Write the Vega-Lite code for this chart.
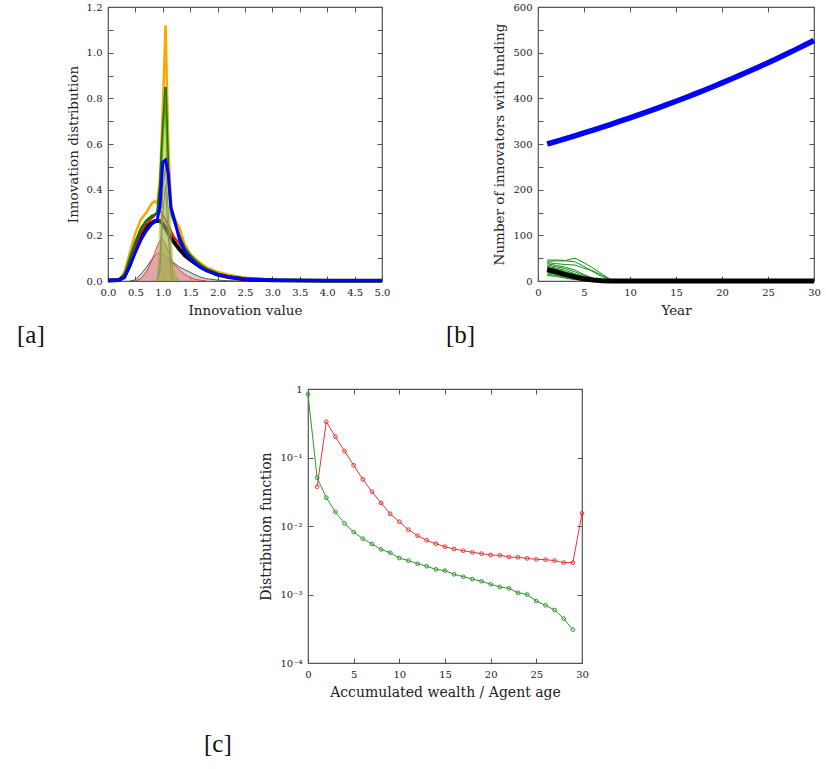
{
  "$schema": "https://vega.github.io/schema/vega-lite/v6.json",
  "padding": {"left": 16, "top": 1, "right": 5, "bottom": 5},
  "background": "white",
  "config": {
    "font": "DejaVu Serif",
    "view": {"stroke": "#555555", "strokeWidth": 1.2},
    "axis": {"grid": false, "domain": false, "tickSize": -5, "tickColor": "#555555", "tickWidth": 1, "labelFont": "DejaVu Serif", "labelFontSize": 10, "labelColor": "#222222", "labelPadding": 11, "labelFlush": false, "labelOverlap": false, "titleFont": "DejaVu Serif", "titleFontSize": 13.5, "titleFontWeight": "normal", "titleColor": "#222222", "titlePadding": 6},
    "title": {"font": "Liberation Serif", "fontSize": 25, "fontWeight": "normal", "color": "#111111"}
  },
  "datasets": {
    "a": [
      {"x":0,"O":0,"G":0,"B":0.003,"R":0,"K":0.002},
      {"x":0.2,"O":0.002,"G":0.001,"B":0.003,"R":0.001,"K":0.004},
      {"x":0.3,"O":0.04,"G":0.02,"B":0.015,"R":0.015,"K":0.02},
      {"x":0.4,"O":0.125,"G":0.1,"B":0.07,"R":0.08,"K":0.07,"GF":0},
      {"x":0.5,"O":0.21,"G":0.17,"B":0.125,"R":0.15,"K":0.14,"GF":0.005,"RF":0},
      {"x":0.6,"O":0.27,"G":0.23,"B":0.18,"R":0.21,"K":0.2,"GF":0.03,"RF":0.01},
      {"x":0.7,"O":0.3,"G":0.265,"B":0.22,"R":0.25,"K":0.235,"GF":0.06,"RF":0.04},
      {"x":0.8,"O":0.34,"G":0.285,"B":0.25,"R":0.275,"K":0.255,"GF":0.095,"RF":0.09},
      {"x":0.85,"O":0.35,"G":0.29,"B":0.258,"R":0.285,"K":0.262,"GF":0.11,"RF":0.12,"YF":0},
      {"x":0.9,"O":0.34,"G":0.3,"B":0.27,"R":0.3,"K":0.263,"GF":0.12,"RF":0.155,"YF":0.02,"PF":0,"GL":0},
      {"x":0.95,"O":0.45,"G":0.42,"B":0.33,"R":0.307,"K":0.263,"GF":0.124,"RF":0.178,"YF":0.38,"PF":0.05,"GL":0.1},
      {"x":1.0,"O":0.75,"G":0.65,"B":0.52,"R":0.29,"K":0.25,"GF":0.12,"RF":0.183,"YF":0.65,"PF":0.3,"GL":0.4},
      {"x":1.05,"O":1.12,"G":0.85,"B":0.53,"R":0.265,"K":0.232,"GF":0.11,"RF":0.16,"YF":0.85,"PF":0.42,"GL":0.5},
      {"x":1.1,"O":0.6,"G":0.45,"B":0.47,"R":0.245,"K":0.21,"GF":0.1,"RF":0.13,"YF":0.45,"PF":0.2,"GL":0.3},
      {"x":1.15,"O":0.33,"G":0.3,"B":0.32,"R":0.22,"K":0.19,"GF":0.088,"RF":0.1,"YF":0.28,"PF":0.03,"GL":0.1},
      {"x":1.2,"O":0.28,"G":0.265,"B":0.28,"R":0.195,"K":0.172,"GF":0.08,"RF":0.075,"YF":0.06,"PF":0,"GL":0.02},
      {"x":1.3,"O":0.235,"G":0.2,"B":0.185,"R":0.165,"K":0.14,"GF":0.062,"RF":0.05,"YF":0,"GL":0},
      {"x":1.4,"O":0.16,"G":0.145,"B":0.13,"R":0.128,"K":0.113,"GF":0.05,"RF":0.028},
      {"x":1.5,"O":0.12,"G":0.112,"B":0.1,"R":0.1,"K":0.093,"GF":0.038,"RF":0.015},
      {"x":1.6,"O":0.095,"G":0.088,"B":0.075,"R":0.08,"K":0.076,"GF":0.026,"RF":0.007},
      {"x":1.7,"O":0.077,"G":0.068,"B":0.058,"R":0.062,"K":0.06,"GF":0.016,"RF":0.003},
      {"x":1.8,"O":0.06,"G":0.052,"B":0.045,"R":0.048,"K":0.047,"GF":0.01,"RF":0},
      {"x":2.0,"O":0.04,"G":0.032,"B":0.028,"R":0.029,"K":0.028,"GF":0.004},
      {"x":2.2,"O":0.028,"G":0.02,"B":0.018,"R":0.018,"K":0.017,"GF":0.001},
      {"x":2.5,"O":0.014,"G":0.009,"B":0.008,"R":0.008,"K":0.008,"GF":0},
      {"x":3.0,"O":0.005,"G":0.004,"B":0.004,"R":0.003,"K":0.003},
      {"x":3.5,"O":0.003,"G":0.002,"B":0.002,"R":0.002,"K":0.002},
      {"x":4.0,"O":0.002,"G":0.001,"B":0.002,"R":0.001,"K":0.001},
      {"x":5.0,"O":0.001,"G":0.001,"B":0.002,"R":0.001,"K":0.001}
    ],
    "b": [
      {"t":1,"blue":300,"black":25,"g1":46,"g2":43,"g3":40,"g4":38,"g5":35,"g6":32,"g7":30,"g8":28,"g9":25,"g10":22,"g11":20,"g12":18,"g13":15,"g14":12},
      {"t":2,"blue":305.9,"black":20,"g1":46,"g2":44,"g3":38,"g4":34,"g5":31,"g6":28,"g7":26,"g8":23,"g9":21,"g10":18,"g11":16,"g12":14,"g13":12,"g14":10},
      {"t":3,"blue":311.9,"black":14,"g1":45,"g2":44,"g3":36,"g4":30,"g5":27,"g6":23,"g7":20,"g8":18,"g9":16,"g10":13,"g11":11,"g12":10,"g13":8,"g14":6},
      {"t":4,"blue":318.0,"black":9,"g1":50,"g2":42,"g3":35,"g4":24,"g5":20,"g6":16,"g7":14,"g8":12,"g9":10,"g10":8,"g11":6,"g12":6,"g13":4,"g14":3},
      {"t":5,"blue":324.2,"black":5,"g1":40,"g2":32,"g3":28,"g4":14,"g5":12,"g6":9,"g7":8,"g8":6,"g9":5,"g10":4,"g11":3,"g12":2,"g13":1,"g14":1},
      {"t":6,"blue":330.6,"black":2,"g1":28,"g2":20,"g3":22,"g4":6,"g5":5,"g6":3,"g7":2,"g8":2,"g9":1,"g10":1,"g11":0,"g12":0,"g13":0,"g14":0},
      {"t":7,"blue":337.1,"black":0.5,"g1":15,"g2":9,"g3":12,"g4":2,"g5":1,"g6":0,"g7":0,"g8":0,"g9":0,"g10":0},
      {"t":8,"blue":343.7,"black":0,"g1":2,"g2":0,"g3":0,"g4":0,"g5":0},
      {"t":9,"blue":350.4,"black":0,"g1":0},
      {"t":10,"blue":357.3,"black":0},
      {"t":11,"blue":364.3,"black":0},
      {"t":12,"blue":371.4,"black":0},
      {"t":13,"blue":378.7,"black":0},
      {"t":14,"blue":386.1,"black":0},
      {"t":15,"blue":393.7,"black":0},
      {"t":16,"blue":401.4,"black":0},
      {"t":17,"blue":409.3,"black":0},
      {"t":18,"blue":417.3,"black":0},
      {"t":19,"blue":425.5,"black":0},
      {"t":20,"blue":433.8,"black":0},
      {"t":21,"blue":442.3,"black":0},
      {"t":22,"blue":451.0,"black":0},
      {"t":23,"blue":459.8,"black":0},
      {"t":24,"blue":468.8,"black":0},
      {"t":25,"blue":478.0,"black":0},
      {"t":26,"blue":487.4,"black":0},
      {"t":27,"blue":496.9,"black":0},
      {"t":28,"blue":506.7,"black":0},
      {"t":29,"blue":516.6,"black":0},
      {"t":30,"blue":526.7,"black":0}
    ],
    "c": [
      {"x":0,"g":0.836},
      {"x":1,"r":0.0375,"g":0.0508},
      {"x":2,"r":0.333,"g":0.0259},
      {"x":3,"r":0.201,"g":0.016},
      {"x":4,"r":0.124,"g":0.0109},
      {"x":5,"r":0.0769,"g":0.00817},
      {"x":6,"r":0.048,"g":0.00653},
      {"x":7,"r":0.0317,"g":0.00546},
      {"x":8,"r":0.0217,"g":0.00456},
      {"x":9,"r":0.0151,"g":0.00408},
      {"x":10,"r":0.01157,"g":0.00341},
      {"x":11,"r":0.00884,"g":0.00312},
      {"x":12,"r":0.00722,"g":0.00282},
      {"x":13,"r":0.00618,"g":0.00258},
      {"x":14,"r":0.00552,"g":0.00233},
      {"x":15,"r":0.00499,"g":0.00223},
      {"x":16,"r":0.00461,"g":0.00197},
      {"x":17,"r":0.00436,"g":0.00182},
      {"x":18,"r":0.00413,"g":0.00168},
      {"x":19,"r":0.00395,"g":0.00156},
      {"x":20,"r":0.00377,"g":0.00141},
      {"x":21,"r":0.00373,"g":0.00129},
      {"x":22,"r":0.00353,"g":0.00123},
      {"x":23,"r":0.00349,"g":0.00106},
      {"x":24,"r":0.00337,"g":0.001},
      {"x":25,"r":0.00326,"g":0.000803},
      {"x":26,"r":0.00323,"g":0.000695},
      {"x":27,"r":0.00312,"g":0.000594},
      {"x":28,"r":0.00292,"g":0.000444},
      {"x":29,"r":0.00292,"g":0.000307},
      {"x":30,"r":0.0153}
    ]
  },
  "spacing": 382,
  "bounds": "flush",
  "vconcat": [
    {
      "spacing": 156,
      "bounds": "flush",
      "hconcat": [
        {
          "width": 274,
          "height": 274,
          "title": {"text": "[a]", "orient": "bottom", "anchor": "start", "frame": "group", "dx": -91, "offset": 6},
          "data": {"name": "a"},
          "resolve": {"axis": {"x": "independent", "y": "independent"}},
          "layer": [
            {"transform": [{"filter": "isValid(datum.GF)"}], "mark": {"type": "area", "color": "#b0b0b0", "opacity": 0.55, "line": {"color": "#333333", "strokeWidth": 0.8}},
             "encoding": {"x": {"field": "x", "type": "quantitative", "scale": {"domain": [0, 5], "nice": false}, "axis": null}, "y": {"field": "GF", "type": "quantitative", "stack": null, "scale": {"domain": [0, 1.2], "nice": false}, "axis": null}}},
            {"transform": [{"filter": "isValid(datum.RF)"}], "mark": {"type": "area", "color": "#e87878", "opacity": 0.5, "line": {"color": "#ee2222", "strokeWidth": 0.8}},
             "encoding": {"x": {"field": "x", "type": "quantitative", "scale": {"domain": [0, 5], "nice": false}, "axis": null}, "y": {"field": "RF", "type": "quantitative", "stack": null, "scale": {"domain": [0, 1.2], "nice": false}, "axis": null}}},
            {"mark": {"type": "line", "color": "#ffa500", "strokeWidth": 2.5},
             "encoding": {"x": {"field": "x", "type": "quantitative", "scale": {"domain": [0, 5], "nice": false}, "axis": null}, "y": {"field": "O", "type": "quantitative", "scale": {"domain": [0, 1.2], "nice": false}, "axis": null}}},
            {"mark": {"type": "line", "color": "#000000", "strokeWidth": 4},
             "encoding": {"x": {"field": "x", "type": "quantitative", "scale": {"domain": [0, 5], "nice": false}, "axis": null}, "y": {"field": "K", "type": "quantitative", "scale": {"domain": [0, 1.2], "nice": false}, "axis": null}}},
            {"mark": {"type": "line", "color": "#ff0000", "strokeWidth": 1.8},
             "encoding": {"x": {"field": "x", "type": "quantitative", "scale": {"domain": [0, 5], "nice": false}, "axis": null}, "y": {"field": "R", "type": "quantitative", "scale": {"domain": [0, 1.2], "nice": false}, "axis": null}}},
            {"mark": {"type": "line", "color": "#007a00", "strokeWidth": 2.5},
             "encoding": {"x": {"field": "x", "type": "quantitative", "scale": {"domain": [0, 5], "nice": false}, "axis": null}, "y": {"field": "G", "type": "quantitative", "scale": {"domain": [0, 1.2], "nice": false}, "axis": null}}},
            {"transform": [{"filter": "isValid(datum.PF)"}], "mark": {"type": "area", "color": "#7070ff", "opacity": 0.2, "line": {"color": "#5555ff", "strokeWidth": 1}},
             "encoding": {"x": {"field": "x", "type": "quantitative", "scale": {"domain": [0, 5], "nice": false}, "axis": null}, "y": {"field": "PF", "type": "quantitative", "stack": null, "scale": {"domain": [0, 1.2], "nice": false}, "axis": null}}},
            {"transform": [{"filter": "isValid(datum.GL)"}], "mark": {"type": "line", "color": "#707070", "strokeWidth": 1},
             "encoding": {"x": {"field": "x", "type": "quantitative", "scale": {"domain": [0, 5], "nice": false}, "axis": null}, "y": {"field": "GL", "type": "quantitative", "scale": {"domain": [0, 1.2], "nice": false}, "axis": null}}},
            {"transform": [{"filter": "isValid(datum.YF)"}], "mark": {"type": "area", "color": "#a4be1e", "opacity": 0.55},
             "encoding": {"x": {"field": "x", "type": "quantitative", "scale": {"domain": [0, 5], "nice": false}, "axis": null}, "y": {"field": "YF", "type": "quantitative", "stack": null, "scale": {"domain": [0, 1.2], "nice": false}, "axis": null}}},
            {"mark": {"type": "line", "color": "#0000ff", "strokeWidth": 3},
             "encoding": {"x": {"field": "x", "type": "quantitative", "scale": {"domain": [0, 5], "nice": false}, "axis": null}, "y": {"field": "B", "type": "quantitative", "scale": {"domain": [0, 1.2], "nice": false}, "axis": null}}},
            {"mark": {"type": "point", "opacity": 0},
             "encoding": {
               "x": {"field": "x", "type": "quantitative", "scale": {"domain": [0, 5], "nice": false}, "axis": {"orient": "bottom", "values": [0, 0.5, 1, 1.5, 2, 2.5, 3, 3.5, 4, 4.5, 5], "format": ".1f", "title": "Innovation value"}},
               "y": {"field": "K", "type": "quantitative", "scale": {"domain": [0, 1.2], "nice": false}, "axis": {"orient": "left", "values": [0, 0.1, 0.2, 0.3, 0.4, 0.5, 0.6, 0.7, 0.8, 0.9, 1, 1.1, 1.2], "labelExpr": "round(datum.value*10) % 2 == 0 ? format(datum.value, '.1f') : ''", "title": "Innovation distribution"}}}},
            {"mark": {"type": "point", "opacity": 0},
             "encoding": {
               "x": {"field": "x", "type": "quantitative", "scale": {"domain": [0, 5], "nice": false}, "axis": {"orient": "top", "values": [0, 0.5, 1, 1.5, 2, 2.5, 3, 3.5, 4, 4.5, 5], "labels": false, "title": null}},
               "y": {"field": "K", "type": "quantitative", "scale": {"domain": [0, 1.2], "nice": false}, "axis": {"orient": "right", "values": [0, 0.1, 0.2, 0.3, 0.4, 0.5, 0.6, 0.7, 0.8, 0.9, 1, 1.1, 1.2], "labels": false, "title": null}}}}
          ]
        },
        {
          "width": 276,
          "height": 274,
          "title": {"text": "[b]", "orient": "bottom", "anchor": "start", "frame": "group", "dx": -92, "offset": 6},
          "data": {"name": "b"},
          "resolve": {"axis": {"x": "independent", "y": "independent"}},
          "layer": [
            {"transform": [{"fold": ["g1", "g2", "g3", "g4", "g5", "g6", "g7", "g8", "g9", "g10", "g11", "g12", "g13", "g14"], "as": ["run", "v"]}, {"filter": "isValid(datum.v)"}],
             "mark": {"type": "line", "color": "#149114", "strokeWidth": 1},
             "encoding": {"x": {"field": "t", "type": "quantitative", "scale": {"domain": [0, 30], "nice": false}, "axis": null}, "y": {"field": "v", "type": "quantitative", "scale": {"domain": [0, 600], "nice": false}, "axis": null}, "detail": {"field": "run"}}},
            {"mark": {"type": "line", "color": "#000000", "strokeWidth": 5},
             "encoding": {"x": {"field": "t", "type": "quantitative", "scale": {"domain": [0, 30], "nice": false}, "axis": null}, "y": {"field": "black", "type": "quantitative", "scale": {"domain": [0, 600], "nice": false}, "axis": null}}},
            {"mark": {"type": "line", "color": "#0000ff", "strokeWidth": 5.5},
             "encoding": {"x": {"field": "t", "type": "quantitative", "scale": {"domain": [0, 30], "nice": false}, "axis": null}, "y": {"field": "blue", "type": "quantitative", "scale": {"domain": [0, 600], "nice": false}, "axis": null}}},
            {"mark": {"type": "point", "opacity": 0},
             "encoding": {
               "x": {"field": "t", "type": "quantitative", "scale": {"domain": [0, 30], "nice": false}, "axis": {"orient": "bottom", "values": [0, 5, 10, 15, 20, 25, 30], "format": "d", "title": "Year"}},
               "y": {"field": "blue", "type": "quantitative", "scale": {"domain": [0, 600], "nice": false}, "axis": {"orient": "left", "values": [0, 50, 100, 150, 200, 250, 300, 350, 400, 450, 500, 550, 600], "labelExpr": "datum.value % 100 == 0 ? format(datum.value, 'd') : ''", "title": "Number of innovators with funding"}}}},
            {"mark": {"type": "point", "opacity": 0},
             "encoding": {
               "x": {"field": "t", "type": "quantitative", "scale": {"domain": [0, 30], "nice": false}, "axis": {"orient": "top", "values": [0, 5, 10, 15, 20, 25, 30], "labels": false, "title": null}},
               "y": {"field": "blue", "type": "quantitative", "scale": {"domain": [0, 600], "nice": false}, "axis": {"orient": "right", "values": [0, 50, 100, 150, 200, 250, 300, 350, 400, 450, 500, 550, 600], "labels": false, "title": null}}}}
          ]
        }
      ]
    },
    {
      "spacing": 0,
      "bounds": "flush",
      "hconcat": [
        {"width": 200, "height": 10, "data": {"values": []}, "mark": {"type": "point", "opacity": 0}, "encoding": {}, "view": {"stroke": null}},
        {
          "width": 274,
          "height": 274,
          "title": {"text": "[c]", "orient": "bottom", "anchor": "start", "frame": "group", "dx": -104, "offset": 33},
          "data": {"name": "c"},
          "resolve": {"axis": {"x": "independent", "y": "independent"}},
          "layer": [
            {"transform": [{"filter": "isValid(datum.r)"}],
             "mark": {"type": "line", "color": "#ee3333", "strokeWidth": 1, "point": {"filled": false, "size": 14, "color": "#ee3333", "strokeWidth": 1}},
             "encoding": {"x": {"field": "x", "type": "quantitative", "scale": {"domain": [0, 30], "nice": false}, "axis": null}, "y": {"field": "r", "type": "quantitative", "scale": {"type": "log", "domain": [0.0001, 1], "nice": false}, "axis": null}}},
            {"transform": [{"filter": "isValid(datum.g)"}],
             "mark": {"type": "line", "color": "#2e962e", "strokeWidth": 1, "point": {"filled": false, "size": 14, "color": "#2e962e", "strokeWidth": 1}},
             "encoding": {"x": {"field": "x", "type": "quantitative", "scale": {"domain": [0, 30], "nice": false}, "axis": null}, "y": {"field": "g", "type": "quantitative", "scale": {"type": "log", "domain": [0.0001, 1], "nice": false}, "axis": null}}},
            {"transform": [{"filter": "isValid(datum.g)"}],
             "mark": {"type": "point", "opacity": 0},
             "encoding": {
               "x": {"field": "x", "type": "quantitative", "scale": {"domain": [0, 30], "nice": false}, "axis": {"orient": "bottom", "values": [0, 5, 10, 15, 20, 25, 30], "format": "d", "title": "Accumulated wealth / Agent age", "titleFontSize": 14}},
               "y": {"field": "g", "type": "quantitative", "scale": {"type": "log", "domain": [0.0001, 1], "nice": false}, "axis": {"orient": "left", "values": [0.0001, 0.001, 0.01, 0.1, 1], "labelExpr": "datum.value > 0.5 ? '1' : datum.value > 0.05 ? '10⁻¹' : datum.value > 0.005 ? '10⁻²' : datum.value > 0.0005 ? '10⁻³' : '10⁻⁴'", "title": "Distribution function", "titleFontSize": 14}}}},
            {"transform": [{"filter": "isValid(datum.g)"}],
             "mark": {"type": "point", "opacity": 0},
             "encoding": {
               "x": {"field": "x", "type": "quantitative", "scale": {"domain": [0, 30], "nice": false}, "axis": {"orient": "top", "values": [0, 5, 10, 15, 20, 25, 30], "labels": false, "title": null}},
               "y": {"field": "g", "type": "quantitative", "scale": {"type": "log", "domain": [0.0001, 1], "nice": false}, "axis": {"orient": "right", "values": [0.0001, 0.001, 0.01, 0.1, 1], "labels": false, "title": null}}}}
          ]
        }
      ]
    }
  ]
}
